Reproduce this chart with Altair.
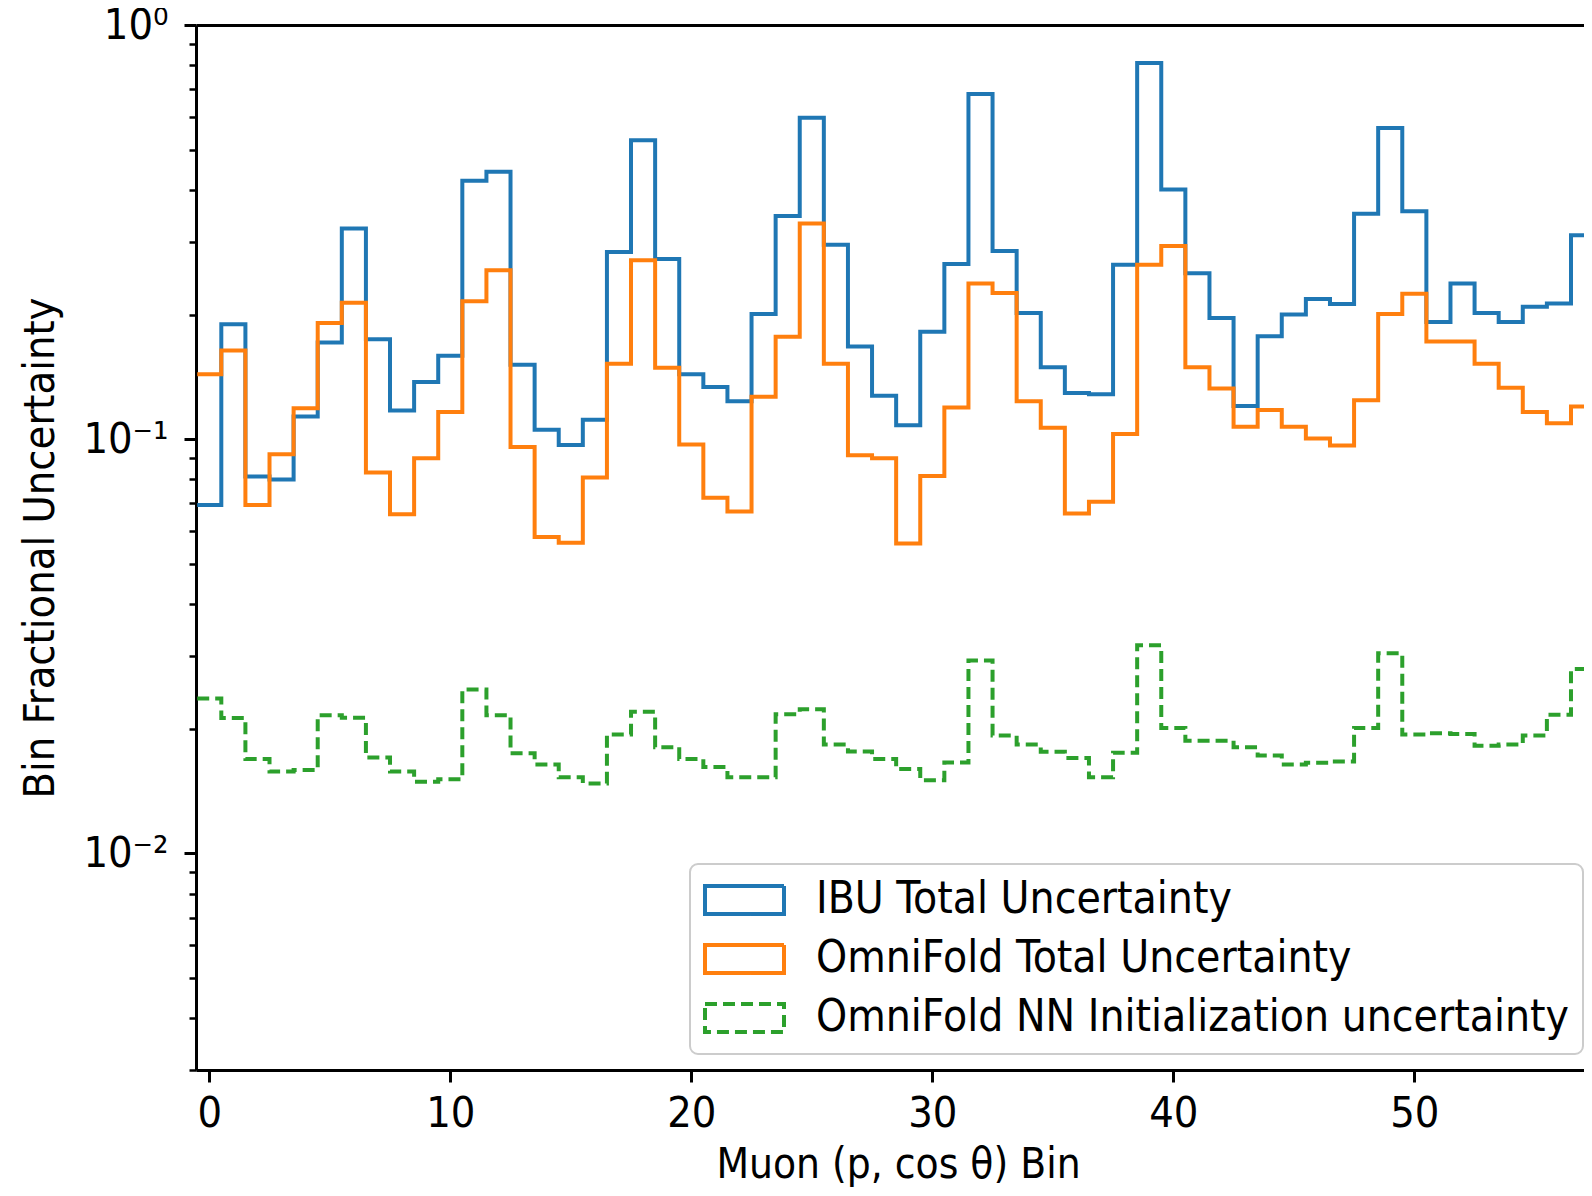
import altair as alt
import pandas as pd

FONT = "DejaVu Sans Condensed, DejaVu Sans"

bins = list(range(58))

ibu = [0.0694, 0.1896, 0.0813, 0.0799, 0.1134, 0.1713, 0.3225, 0.1742, 0.1173, 0.1374,
       0.1591, 0.4205, 0.4422, 0.1513, 0.1054, 0.0968, 0.1115, 0.2832, 0.5271, 0.2722,
       0.1434, 0.1336, 0.1235, 0.2006, 0.3460, 0.5969, 0.2946, 0.1675, 0.1273, 0.1081,
       0.1818, 0.2647, 0.6812, 0.2848, 0.2018, 0.1492, 0.1292, 0.1284, 0.2639, 0.8097,
       0.4008, 0.2515, 0.1962, 0.1203, 0.1772, 0.2001, 0.2181, 0.2121, 0.3500, 0.5640,
       0.3550, 0.1918, 0.2377, 0.2018, 0.1918, 0.2087, 0.2126, 0.3109]

omnifold = [0.1434, 0.1637, 0.0694, 0.0920, 0.1187, 0.1907, 0.2135, 0.0831, 0.0659, 0.0900,
            0.1163, 0.2153, 0.2558, 0.0957, 0.0581, 0.0562, 0.0808, 0.1522, 0.2706, 0.1488,
            0.0971, 0.0722, 0.0669, 0.1266, 0.1767, 0.3317, 0.1522, 0.0915, 0.0900, 0.0560,
            0.0815, 0.1193, 0.2377, 0.2253, 0.1235, 0.1066, 0.0662, 0.0706, 0.1030, 0.2639,
            0.2926, 0.1492, 0.1325, 0.1072, 0.1176, 0.1072, 0.1004, 0.0965, 0.1242, 0.2006,
            0.2246, 0.1722, 0.1722, 0.1522, 0.1332, 0.1163, 0.1093, 0.1200]

nn_init = [0.02366, 0.02124, 0.01690, 0.01576, 0.01589, 0.02157, 0.02126, 0.01705, 0.01576, 0.01489,
           0.01510, 0.02489, 0.02157, 0.01744, 0.01639, 0.01527, 0.01476, 0.01936, 0.02199, 0.01805,
           0.01690, 0.01616, 0.01527, 0.01527, 0.02168, 0.02230, 0.01831, 0.01762, 0.01690, 0.01598,
           0.01501, 0.01658, 0.02924, 0.01925, 0.01831, 0.01759, 0.01700, 0.01527, 0.01749, 0.03182,
           0.02009, 0.01872, 0.01872, 0.01805, 0.01724, 0.01640, 0.01655, 0.01667, 0.02009, 0.03042,
           0.01936, 0.01951, 0.01943, 0.01820, 0.01831, 0.01925, 0.02162, 0.02787]

series_names = ["IBU Total Uncertainty", "OmniFold Total Uncertainty",
                "OmniFold NN Initialization uncertainty"]
series_colors = ["#1f77b4", "#ff7f0e", "#2ca02c"]
series_dashes = [[1, 0], [1, 0], [12, 6]]

x_ticks = [0, 10, 20, 30, 40, 50]
y_major = [1, 0.1, 0.01]
y_minor = [0.003, 0.004, 0.005, 0.006, 0.007, 0.008, 0.009,
           0.02, 0.03, 0.04, 0.05, 0.06, 0.07, 0.08, 0.09,
           0.2, 0.3, 0.4, 0.5, 0.6, 0.7, 0.8, 0.9]

rows = []
for name, vals in zip(series_names, [ibu, omnifold, nn_init]):
    for b, v in zip(bins, vals):
        rows.append({"edge": b - 0.5, "value": v, "series": name, "k": b})
    rows.append({"edge": bins[-1] + 0.5, "value": vals[-1], "series": name, "k": len(bins)})
df = pd.DataFrame(rows)

xscale = alt.Scale(domain=[-0.55, 57.04], nice=False, zero=False)
yscale = alt.Scale(type="log", domain=[0.003, 1], nice=False)

legend = alt.Legend(
    title=None, orient="none", legendX=494, legendY=839,
    symbolType="M-1,-0.354L1,-0.354L1,0.354L-1,0.354Z",
    symbolSize=6241, symbolStrokeWidth=4, symbolFillColor="transparent",
    labelFont=FONT, labelFontSize=44, labelColor="black", labelOffset=30,
    labelLimit=2000, clipHeight=46, rowPadding=13, padding=13,
    strokeColor="#cccccc", fillColor="rgba(255,255,255,0.8)", cornerRadius=8,
)

lines = alt.Chart(df).mark_line(interpolate="step-after", strokeWidth=4, clip=True).encode(
    x=alt.X("edge:Q", scale=xscale,
            axis=alt.Axis(orient="bottom", values=x_ticks, format="d", tickSize=12, tickWidth=3,
                          domainWidth=3, labelFontSize=43, labelPadding=44,
                          labelBaseline="alphabetic", labelFlush=False, grid=False,
                          title="Muon (p, cos θ) Bin", titleFontSize=42, titleX=702, titleY=107,
                          titleBaseline="alphabetic", titleAlign="center")),
    y=alt.Y("value:Q", scale=yscale,
            axis=alt.Axis(orient="left", values=y_major, tickSize=12, tickWidth=3, domainWidth=3,
                          labelFontSize=43, labelPadding=16, labelBaseline="middle",
                          labelExpr="datum.value >= 0.5 ? '10⁰' : datum.value >= 0.05 ? '10⁻¹' : '10⁻²'",
                          grid=False, title="Bin Fractional Uncertainty", titleFontSize=43,
                          titleX=-143, titleY=522.5, titleAngle=270, titleAlign="center",
                          titleBaseline="alphabetic")),
    color=alt.Color("series:N", scale=alt.Scale(domain=series_names, range=series_colors), legend=legend),
    strokeDash=alt.StrokeDash("series:N", scale=alt.Scale(domain=series_names, range=series_dashes), legend=legend),
    order="k:Q",
    detail="series:N",
)

frame = alt.Chart(df).mark_line(opacity=0, strokeWidth=0).encode(
    x=alt.X("edge:Q", scale=xscale,
            axis=alt.Axis(orient="top", ticks=False, labels=False, domain=True, domainWidth=3,
                          grid=False, title=None)),
    y=alt.Y("value:Q", scale=yscale,
            axis=alt.Axis(orient="left", values=y_minor, labels=False, tickSize=7, tickWidth=2.5,
                          domain=False, grid=False, title=None)),
    detail="series:N",
)

chart = alt.layer(lines, frame).resolve_axis(x="independent", y="independent").properties(
    width=1388, height=1045,
    padding={"left": 188, "top": 17, "right": 0, "bottom": 118},
    autosize=alt.AutoSizeParams(type="none"),
    title=alt.TitleParams("Fake Dataset 0", font=FONT, fontSize=43, fontWeight="normal",
                          color="black", offset=4, dy=20, baseline="alphabetic", anchor="middle"),
).configure_view(strokeWidth=0).configure_axis(
    labelFont=FONT, titleFont=FONT, titleFontWeight="normal", domainColor="black",
    tickColor="black", labelColor="black", titleColor="black",
).configure_legend(strokeWidth=2)

chart.save("out.html", embed_options={"renderer": "svg", "actions": False})
